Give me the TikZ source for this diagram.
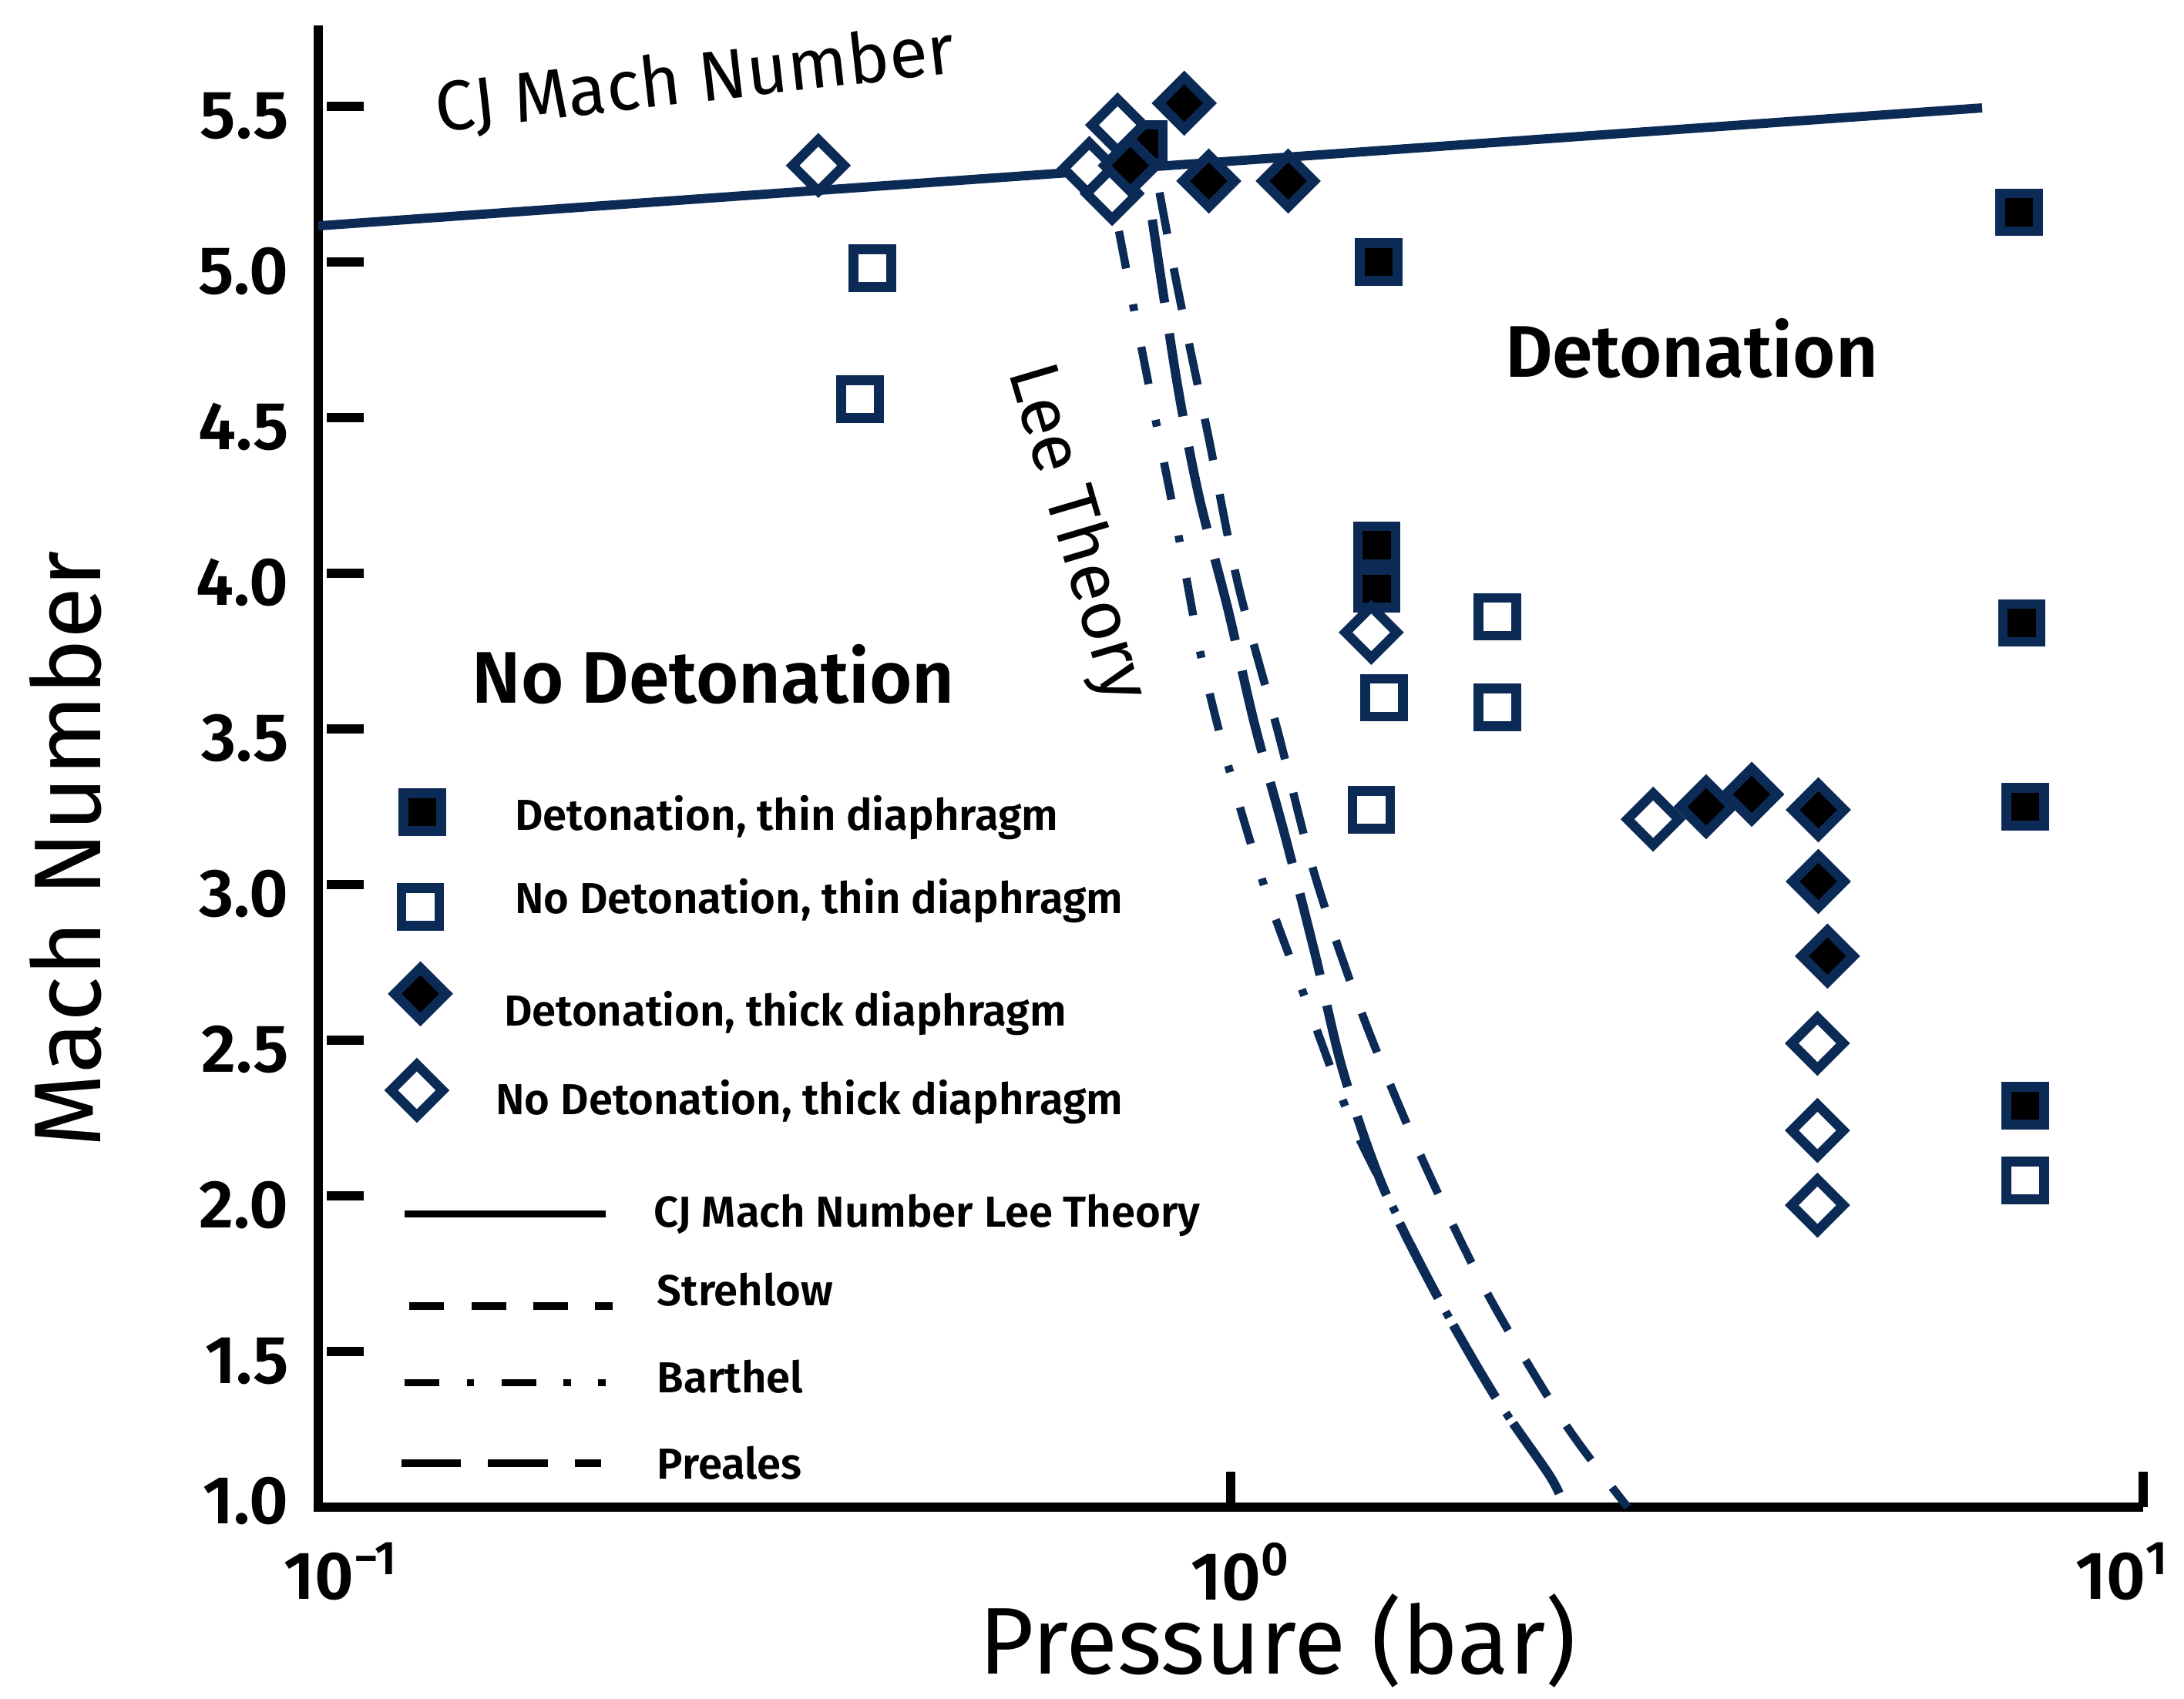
\documentclass[tikz,border=0pt]{standalone}
\usepackage{fontspec}
\setmainfont{Fira Sans}[BoldFont={Fira Sans SemiBold}]
\usetikzlibrary{shapes.geometric}
\definecolor{navy}{RGB}{12,42,86}
\tikzset{
  sqbox/.style={rectangle, draw=navy, line width=3.6pt, minimum size=0.49cm, inner sep=0pt},
  dmbox/.style={diamond, draw=navy, line width=3.6pt, minimum size=0.72cm, inner sep=0pt},
  detthin/.style={sqbox, fill=black},
  nodetthin/.style={sqbox, fill=white},
  detthick/.style={dmbox, fill=black},
  nodetthick/.style={dmbox, fill=white},
  cjline/.style={line width=3.4pt},
  strehlow/.style={line width=3pt, dash pattern=on 15.6pt off 12.8pt},
  barthel/.style={line width=3pt, dash pattern=on 14pt off 13.5pt on 2.5pt off 13.5pt},
  preales/.style={line width=3.4pt, dash pattern=on 31pt off 11.5pt},
  legstrehlow/.style={line width=2.6pt, dash pattern=on 12.8pt off 10pt},
  legbarthel/.style={line width=2.6pt, dash pattern=on 12.8pt off 10pt on 2.8pt off 10pt},
  legpreales/.style={line width=2.6pt, dash pattern=on 22pt off 10pt},
  ticklabel/.style={font=\fontsize{25}{30}\selectfont\bfseries},
  legendtext/.style={font=\fontsize{16}{19}\selectfont\bfseries, anchor=west, inner sep=0pt},
  regionlabel/.style={font=\fontsize{27}{32}\selectfont\bfseries},
  curvelabel/.style={font=\fontsize{26}{30}\selectfont},
  axistitle/.style={font=\fontsize{35}{42}\selectfont},
}
\begin{document}
\begin{tikzpicture}
\useasboundingbox (0,0) rectangle (28.34,22.04);
\begin{scope}[x=11.84cm, y=4.04cm, shift={(15.97cm,-1.56cm)}]
% axes
\coordinate (ytop) at (-1,5.76);
\coordinate (orig) at (-1,1);
\coordinate (xend) at (1,1);
\draw[line width=3.4pt] (ytop) -- (orig) -- (xend);
\foreach \m [count=\i] in {1.5,2.0,2.5,3.0,3.5,4.0,4.5,5.0,5.5}{
  \draw[line width=3.4pt] (-0.9907,\m) -- (-0.950,\m);
  \node[ticklabel, anchor=east] (ylab\i) at (-1.022,\m-0.03) {\m};
}
\node[ticklabel, anchor=east] (ylab0) at (-1.022,1.02) {1.0};
\draw[line width=3.4pt] (0,1) -- (0,1.115);
\draw[line width=3.4pt] (1,1) -- (1,1.115);
\node[ticklabel, anchor=north] (xlab1) at (-0.975,0.916) {10\textsuperscript{−1}};
\node[ticklabel, anchor=north] (xlab2) at (0.011,0.916) {10\textsuperscript{0}};
\node[ticklabel, anchor=north] (xlab3) at (0.977,0.916) {10\textsuperscript{1}};
\node[axistitle] (xtitle) at (0.0515,0.57) {Pressure (bar)};
\node[axistitle, rotate=90] (ytitle) at (-1.277,3.114) {Mach Number};

% CJ Mach number and Lee theory curves
\coordinate (cja) at (-1,5.116);
\coordinate (cjb) at (0.8235,5.495);
\draw[cjline, navy] (cja) -- (cjb);
\node[curvelabel, rotate=6.5] (cjlab) at (-0.587,5.582) {CJ Mach Number};
\draw[barthel, navy] plot[smooth] coordinates {(-0.1225,5.099) (-0.105,4.832) (-0.080,4.458) (-0.055,4.087) (-0.031,3.713) (0.001,3.342) (0.039,2.975) (0.083,2.624) (0.129,2.262) (0.166,2.035) (0.223,1.696) (0.289,1.359) (0.350,1.099) (0.366,1.0)};
\draw[preales, navy] plot[smooth] coordinates {(-0.086,5.136) (-0.059,4.616) (-0.035,4.250) (-0.003,3.884) (0.026,3.517) (0.060,3.151) (0.093,2.770) (0.123,2.401) (0.166,2.035) (0.223,1.696) (0.289,1.359) (0.350,1.099) (0.366,1.0)};
\draw[strehlow, navy] plot[smooth] coordinates {(-0.078,5.223) (-0.058,4.913) (-0.024,4.433) (0.008,3.965) (0.052,3.488) (0.093,3.022) (0.146,2.569) (0.209,2.124) (0.281,1.688) (0.366,1.270) (0.435,1.0)};
\node[curvelabel, rotate=-73.5] (leelab) at (-0.170,4.129) {Lee Theory};

% data
\foreach \p/\m [count=\i] in {-0.095/5.38, 0.864/5.16, 0.162/5.00, 0.160/4.09, 0.160/3.95, 0.867/3.84, 0.871/3.25, 0.871/2.29}
  \node[detthin] (dt\i) at (\p,\m) {};
\foreach \p/\m [count=\i] in {-0.393/4.98, -0.406/4.56, 0.292/3.86, 0.168/3.60, 0.292/3.57, 0.154/3.24, 0.871/2.05}
  \node[nodetthin] (ndt\i) at (\p,\m) {};
\foreach \p/\m [count=\i] in {-0.452/5.31, -0.124/5.44, -0.155/5.30, -0.130/5.22, 0.154/3.81, 0.463/3.21, 0.643/2.49, 0.643/2.21, 0.643/1.97}
  \node[nodetthick] (ndk\i) at (\p,\m) {};
\foreach \p/\m [count=\i] in {-0.051/5.51, -0.110/5.31, -0.024/5.26, 0.063/5.26, 0.521/3.25, 0.571/3.29, 0.644/3.24, 0.644/3.01, 0.654/2.77}
  \node[detthick] (dk\i) at (\p,\m) {};

\node[regionlabel] (nodet) at (-0.567,3.676) {No Detonation};
\node[regionlabel] (det) at (0.505,4.723) {Detonation};

% legend
\node[detthin] (legdt) at (-0.886,3.233) {};
\node[nodetthin] (legndt) at (-0.888,2.928) {};
\node[detthick] (legdk) at (-0.888,2.649) {};
\node[nodetthick] (legndk) at (-0.892,2.339) {};
\node[legendtext] (txtdt) at (-0.785,3.215) {Detonation, thin diaphragm};
\node[legendtext] (txtndt) at (-0.785,2.948) {No Detonation, thin diaphragm};
\node[legendtext] (txtdk) at (-0.797,2.587) {Detonation, thick diaphragm};
\node[legendtext] (txtndk) at (-0.806,2.302) {No Detonation, thick diaphragm};
\coordinate (l1a) at (-0.905,1.941);
\coordinate (l1b) at (-0.685,1.941);
\coordinate (l2a) at (-0.900,1.646);
\coordinate (l2b) at (-0.677,1.646);
\coordinate (l3a) at (-0.905,1.399);
\coordinate (l3b) at (-0.685,1.399);
\coordinate (l4a) at (-0.909,1.141);
\coordinate (l4b) at (-0.690,1.141);
\draw[line width=2.6pt] (l1a) -- (l1b);
\draw[legstrehlow] (l2a) -- (l2b);
\draw[legbarthel] (l3a) -- (l3b);
\draw[legpreales] (l4a) -- (l4b);
\node[legendtext] (txtcj) at (-0.633,1.936) {CJ Mach Number Lee Theory};
\node[legendtext] (txtst) at (-0.629,1.698) {Strehlow};
\node[legendtext] (txtba) at (-0.629,1.418) {Barthel};
\node[legendtext] (txtpr) at (-0.629,1.141) {Preales};
\end{scope}
\end{tikzpicture}
\end{document}
